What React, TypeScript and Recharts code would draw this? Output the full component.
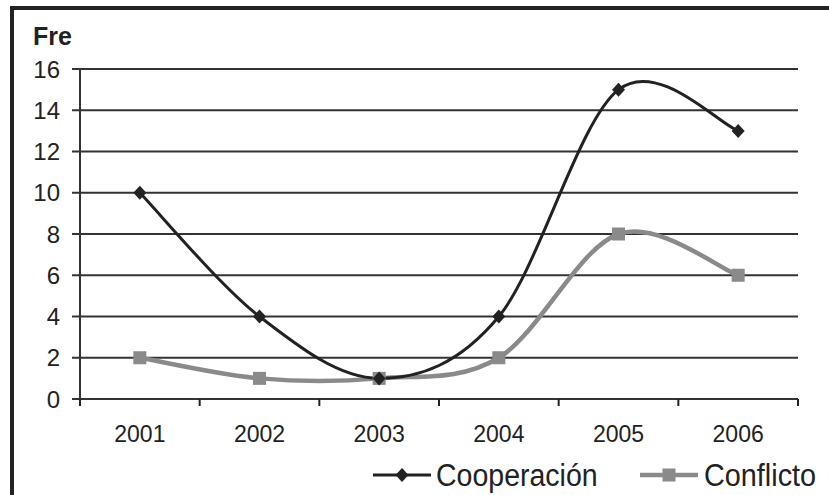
import React from 'react';
import { LineChart, Line, XAxis, YAxis, CartesianGrid, Legend } from 'recharts';

const years = ['2001', '2002', '2003', '2004', '2005', '2006'];
const cooperacion = [10, 4, 1, 4, 15, 13];
const conflicto = [2, 1, 1, 2, 8, 6];
const yTicks = [0, 2, 4, 6, 8, 10, 12, 14, 16];

const data = years.map((y, i) => ({ x: i, year: y, coop: cooperacion[i], conf: conflicto[i] }));
const xTicks: number[] = [];
for (let i = 0; i <= years.length * 2; i++) xTicks.push(-0.5 + i * 0.5);

const DARK = '#222222';
const GRAY = '#8a8a8a';
const FONT = "'Liberation Sans', Arial, sans-serif";

// Excel-like smoothed line (Catmull-Rom bezier)
function excelCurve(context: any) {
  let pts: number[][] = [];
  return {
    areaStart() {},
    areaEnd() {},
    lineStart() {
      pts = [];
    },
    lineEnd() {
      const n = pts.length;
      if (!n) return;
      context.moveTo(pts[0][0], pts[0][1]);
      for (let i = 0; i < n - 1; i++) {
        const p0 = pts[Math.max(i - 1, 0)];
        const p1 = pts[i];
        const p2 = pts[i + 1];
        const p3 = pts[Math.min(i + 2, n - 1)];
        const c1x = p1[0] + (p2[0] - p0[0]) / 6;
        const c1y = p1[1] + (p2[1] - p0[1]) / 6;
        const c2x = p2[0] - (p3[0] - p1[0]) / 6;
        const c2y = p2[1] - (p3[1] - p1[1]) / 6;
        context.bezierCurveTo(c1x, c1y, c2x, c2y, p2[0], p2[1]);
      }
    },
    point(x: number, y: number) {
      pts.push([+x, +y]);
    },
  };
}

const Diamond = (props: any) => {
  const { cx, cy, index } = props;
  if (cx == null || cy == null) return <g key={`d${index}`} />;
  return (
    <path
      key={`d${index}`}
      d={`M${cx},${cy - 7} L${cx + 6.5},${cy} L${cx},${cy + 7} L${cx - 6.5},${cy} Z`}
      fill={DARK}
    />
  );
};

const Square = (props: any) => {
  const { cx, cy, index } = props;
  if (cx == null || cy == null) return <g key={`s${index}`} />;
  return <rect key={`s${index}`} x={cx - 6.5} y={cy - 6.5} width={13} height={13} fill={GRAY} />;
};

const XTick = (props: any) => {
  const { x, y, payload } = props;
  const v = payload.value;
  if (Math.abs(v - Math.round(v)) > 0.01) {
    return <line x1={x} y1={y} x2={x} y2={y + 7} stroke={DARK} strokeWidth={2} />;
  }
  const label = years[Math.round(v)];
  return (
    <text
      transform={`translate(${x},${y + 43}) scale(0.96,1)`}
      textAnchor="middle"
      fontSize={24}
      fill={DARK}
      fontFamily={FONT}
    >
      {label}
    </text>
  );
};

const YTick = (props: any) => {
  const { x, y, payload } = props;
  return (
    <text
      transform={`translate(${x},${y + 8.5}) scale(1,1)`}
      textAnchor="end"
      fontSize={24}
      fill={DARK}
      fontFamily={FONT}
    >
      {payload.value}
    </text>
  );
};

const LegendContent = () => (
  <svg width={470} height={50}>
    <line x1={13} y1={25} x2={71} y2={25} stroke={DARK} strokeWidth={3} />
    <path d="M42,18 L48.5,25 L42,32 L35.5,25 Z" fill={DARK} />
    <text transform="translate(76,36) scale(0.92,1)" fontSize={31} fill={DARK} fontFamily={FONT}>
      Cooperación
    </text>
    <line x1={280} y1={25} x2={338} y2={25} stroke={GRAY} strokeWidth={4.5} />
    <rect x={302.5} y={18.5} width={13} height={13} fill={GRAY} />
    <text transform="translate(344,36) scale(0.93,1)" fontSize={31} fill={DARK} fontFamily={FONT}>
      Conflicto
    </text>
  </svg>
);

export default function App() {
  return (
    <div
      style={{
        position: 'absolute',
        left: 0,
        top: 0,
        width: 829,
        height: 495,
        overflow: 'hidden',
        background: '#ffffff',
      }}
    >
      <div
        style={{
          position: 'absolute',
          left: 10,
          top: 6,
          width: 1000,
          height: 1000,
          borderLeft: `4px solid ${DARK}`,
          borderTop: `4px solid ${DARK}`,
        }}
      />
      <div style={{ position: 'absolute', left: 0, top: 0 }}>
        <LineChart width={829} height={495} data={data} margin={{ top: 69, right: 31, left: 0, bottom: 0 }}>
          <CartesianGrid horizontal vertical={false} stroke="#333333" strokeWidth={2} />
          <XAxis
            dataKey="x"
            type="number"
            domain={[-0.5, years.length - 0.5]}
            ticks={xTicks}
            interval={0}
            tickSize={0}
            tickMargin={0}
            tickLine={false}
            tick={<XTick />}
            axisLine={{ stroke: '#333333', strokeWidth: 2 }}
            height={96}
          />
          <YAxis
            type="number"
            domain={[0, 16]}
            ticks={yTicks}
            interval={0}
            width={80}
            tickSize={8}
            tickMargin={12}
            tickLine={{ stroke: '#333333', strokeWidth: 2 }}
            axisLine={{ stroke: '#333333', strokeWidth: 2 }}
            tick={<YTick />}
            label={{
              content: () => (
                <text x={33} y={45} fontSize={25} fontWeight="bold" fill={DARK} fontFamily={FONT}>
                  Fre
                </text>
              ),
            }}
          />
          <Line
            dataKey="conf"
            name="Conflicto"
            type={excelCurve as any}
            stroke={GRAY}
            strokeWidth={4.5}
            dot={Square}
            activeDot={false}
            isAnimationActive={false}
          />
          <Line
            dataKey="coop"
            name="Cooperación"
            type={excelCurve as any}
            stroke={DARK}
            strokeWidth={3}
            dot={Diamond}
            activeDot={false}
            isAnimationActive={false}
          />
          <Legend
            layout="horizontal"
            verticalAlign="middle"
            align="center"
            content={<LegendContent />}
            wrapperStyle={{ left: 360, top: 450, width: 470 }}
          />
        </LineChart>
      </div>
    </div>
  );
}
